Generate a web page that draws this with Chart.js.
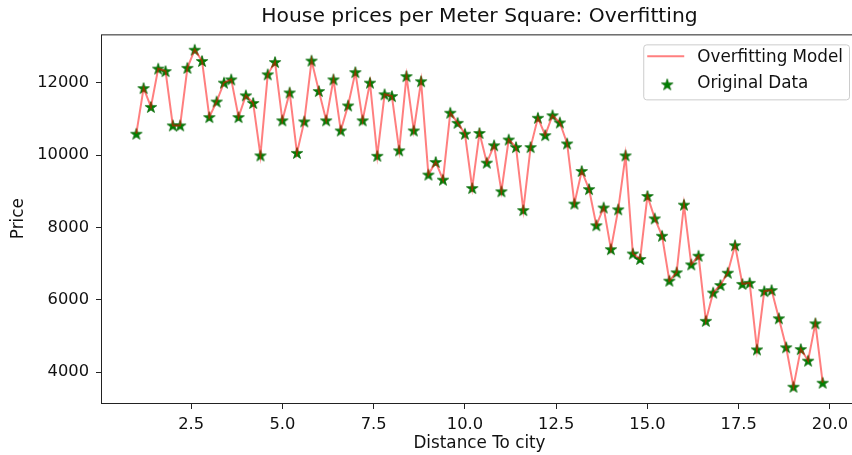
<!DOCTYPE html>
<html>
<head>
<meta charset="utf-8">
<script src="https://cdn.jsdelivr.net/npm/chart.js@4.4.0/dist/chart.umd.min.js"></script>
<style>
  html, body { margin: 0; padding: 0; background: #ffffff; overflow: hidden; width: 852px; height: 455px; }
  #c { display: block; }
</style>
</head>
<body>
<!-- the axes run a few pixels past the right edge of the page, so the right spine is cut off -->
<canvas id="c" width="857" height="455"></canvas>
<script>
// Distance to the city (km) for each sampled house
const distance = [
  1.0, 1.2, 1.4, 1.6, 1.8, 2.0, 2.2, 2.4, 2.6, 2.8,
  3.0, 3.2, 3.4, 3.6, 3.8, 4.0, 4.2, 4.4, 4.6, 4.8,
  5.0, 5.2, 5.4, 5.6, 5.8, 6.0, 6.2, 6.4, 6.6, 6.8,
  7.0, 7.2, 7.4, 7.6, 7.8, 8.0, 8.2, 8.4, 8.6, 8.8,
  9.0, 9.2, 9.4, 9.6, 9.8, 10.0, 10.2, 10.4, 10.6, 10.8,
  11.0, 11.2, 11.4, 11.6, 11.8, 12.0, 12.2, 12.4, 12.6, 12.8,
  13.0, 13.2, 13.4, 13.6, 13.8, 14.0, 14.2, 14.4, 14.6, 14.8,
  15.0, 15.2, 15.4, 15.6, 15.8, 16.0, 16.2, 16.4, 16.6, 16.8,
  17.0, 17.2, 17.4, 17.6, 17.8, 18.0, 18.2, 18.4, 18.6, 18.8,
  19.0, 19.2, 19.4, 19.6, 19.8
];

// Price per square meter at each distance
const price = [
  10590, 11850, 11330, 12390, 12320, 10820, 10820, 12410, 12910, 12600,
  11050, 11480, 12000, 12090, 11050, 11650, 11440, 9990, 12230, 12570,
  10960, 11730, 10060, 10930, 12610, 11770, 10960, 12090, 10680, 11370,
  12290, 10960, 12000, 9980, 11680, 11630, 10130, 12180, 10680, 12040,
  9460, 9810, 9320, 11170, 10890, 10590, 9090, 10610, 9790, 10270,
  9000, 10430, 10220, 8480, 10220, 11030, 10550, 11100, 10900, 10320,
  8660, 9560, 9060, 8060, 8550, 7400, 8500, 9990, 7280, 7130,
  8870, 8250, 7770, 6530, 6760, 8630, 6980, 7220, 5420, 6200,
  6410, 6750, 7510, 6440, 6470, 4630, 6240, 6270, 5490, 4690,
  3600, 4640, 4320, 5350, 3710
];

const xTicks = [2.5, 5.0, 7.5, 10.0, 12.5, 15.0, 17.5, 20.0];
const yTicks = [4000, 6000, 8000, 10000, 12000];

const seriesNames = ['Overfitting Model', 'Original Data'];

const points = distance.map((d, i) => ({ x: d, y: price[i] }));

const FONT = 'DejaVu Sans';
const TEXT = '#111111';
const LINE_COLOR = 'rgba(255, 0, 0, 0.5)';
const STAR_COLOR = '#008000';

// Filled five-pointed star used as the point marker
function makeStar(r, fill, stroke) {
  const s = Math.ceil(r * 2 + 4);
  const c = document.createElement('canvas');
  c.width = s; c.height = s;
  const g = c.getContext('2d');
  g.beginPath();
  for (let k = 0; k < 10; k++) {
    const rad = k % 2 ? r * 0.382 : r;
    const a = -Math.PI / 2 + k * Math.PI / 5;
    g.lineTo(s / 2 + rad * Math.cos(a), s / 2 + rad * Math.sin(a) + 0.6);
  }
  g.closePath();
  g.fillStyle = fill;
  g.fill();
  g.lineWidth = 0.8;
  g.strokeStyle = stroke;
  g.stroke();
  return c;
}
const star = makeStar(6, STAR_COLOR, '#006400');

// Axes frame drawn around the plotting area
const framePlugin = {
  id: 'frame',
  afterDraw(chart) {
    const { ctx, chartArea: a } = chart;
    ctx.save();
    ctx.strokeStyle = '#222222';
    ctx.lineWidth = 1;
    ctx.strokeRect(a.left - 0.5, a.top + 0.5, a.right - a.left, a.bottom - a.top);
    ctx.restore();
  }
};

// Boxed legend in the upper right corner of the plot
const boxLegendPlugin = {
  id: 'boxLegend',
  afterDraw(chart) {
    const { ctx, chartArea: a } = chart;
    const ds = chart.data.datasets;
    ctx.save();
    ctx.font = '16.8px "' + FONT + '"';
    const tw = Math.max(...ds.map(d => ctx.measureText(d.label).width));
    const w = 54 + tw + 6;
    const h = 55;
    const right = a.right - 8;
    const x = right - w;
    const y = a.top + 10;
    ctx.beginPath();
    ctx.roundRect(x + 0.5, y + 0.5, w, h, 3);
    ctx.fillStyle = 'rgba(255,255,255,0.8)';
    ctx.fill();
    ctx.strokeStyle = '#cccccc';
    ctx.lineWidth = 1;
    ctx.stroke();

    // line sample
    const r1 = y + 12;
    ctx.beginPath();
    ctx.moveTo(x + 4, r1);
    ctx.lineTo(x + 41, r1);
    ctx.strokeStyle = ds[0].borderColor;
    ctx.lineWidth = 2;
    ctx.stroke();
    // marker sample
    const r2 = y + 40;
    ctx.drawImage(star, x + 24 - star.width / 2, r2 - star.height / 2);

    ctx.fillStyle = TEXT;
    ctx.textBaseline = 'middle';
    ctx.textAlign = 'left';
    ctx.fillText(ds[0].label, x + 54, r1 + 1);
    ctx.fillText(ds[1].label, x + 54, r2 - 1);
    ctx.restore();
  }
};

Chart.defaults.font.family = FONT;
Chart.defaults.color = TEXT;

new Chart(document.getElementById('c'), {
  type: 'scatter',
  data: {
    datasets: [
      {
        type: 'line',
        label: seriesNames[0],
        data: points,
        borderColor: LINE_COLOR,
        backgroundColor: LINE_COLOR,
        borderWidth: 2,
        pointRadius: 0,
        tension: 0,
        fill: false
      },
      {
        type: 'scatter',
        label: seriesNames[1],
        data: points,
        pointStyle: star,
        pointRadius: 6,
        backgroundColor: STAR_COLOR,
        borderColor: STAR_COLOR
      }
    ]
  },
  options: {
    responsive: false,
    animation: false,
    devicePixelRatio: 1,
    layout: { padding: 0, autoPadding: false },
    plugins: {
      legend: { display: false },
      tooltip: { enabled: false },
      title: {
        display: true,
        text: 'House prices per Meter Square: Overfitting',
        fullSize: false,
        color: TEXT,
        font: { family: FONT, size: 20.3, weight: 'normal', lineHeight: 1.2 },
        padding: { top: 5, bottom: 5 }
      }
    },
    scales: {
      x: {
        type: 'linear',
        position: 'bottom',
        min: 0.06,
        max: 20.74,
        afterBuildTicks(scale) { scale.ticks = xTicks.map(v => ({ value: v })); },
        afterFit(scale) { scale.height = 52; scale.paddingLeft = 0; scale.paddingRight = 0; },
        ticks: {
          autoSkip: false,
          maxRotation: 0,
          padding: 5.5,
          color: TEXT,
          font: { size: 16.3 },
          callback: v => Number(v).toFixed(1)
        },
        grid: { drawOnChartArea: false, drawTicks: true, tickLength: 6, tickColor: '#222222', color: '#222222' },
        border: { display: false },
        title: {
          display: true,
          text: 'Distance To city',
          color: TEXT,
          font: { size: 16.8, lineHeight: 1.2 },
          padding: { top: 0, bottom: 1 }
        }
      },
      y: {
        type: 'linear',
        position: 'left',
        min: 3150,
        max: 13335,
        afterBuildTicks(scale) { scale.ticks = yTicks.map(v => ({ value: v })); },
        afterFit(scale) { scale.width = 102; scale.paddingTop = 0; scale.paddingBottom = 0; },
        ticks: {
          autoSkip: false,
          padding: 7,
          color: TEXT,
          font: { size: 16.3 },
          callback: v => String(v)
        },
        grid: { drawOnChartArea: false, drawTicks: true, tickLength: 6, tickColor: '#222222', color: '#222222' },
        border: { display: false },
        title: {
          display: true,
          text: 'Price',
          color: TEXT,
          font: { size: 16.8, lineHeight: 1.2 },
          padding: { top: 9, bottom: 0 }
        }
      }
    }
  },
  plugins: [framePlugin, boxLegendPlugin]
});
</script>
</body>
</html>
